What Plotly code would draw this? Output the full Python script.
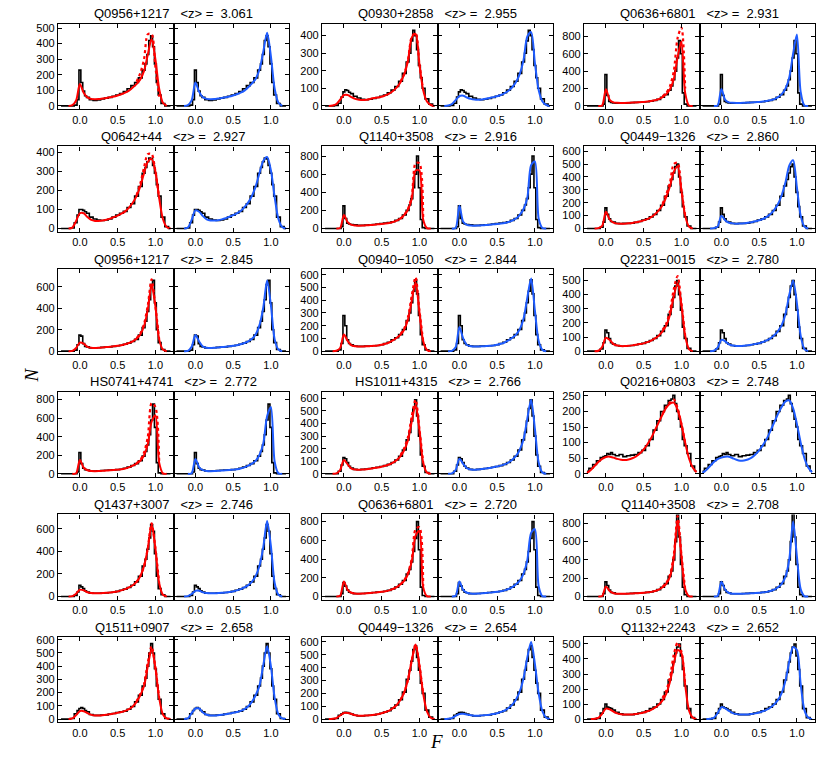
import plotly.graph_objects as go

# Histogram bin centres (finer near the F=0 spike and the continuum peak)
H_GRID = [-0.25, -0.2, -0.15, -0.1, -0.05, -0.025, 0.0, 0.025, 0.05, 0.075, 0.1, 0.15, 0.2, 0.25,
          0.3, 0.35, 0.4, 0.45, 0.5, 0.55, 0.6, 0.65, 0.7, 0.75, 0.8, 0.85, 0.875, 0.9, 0.925,
          0.95, 0.975, 1.0, 1.025, 1.05, 1.1, 1.15, 1.2]
# Model-curve sample points
F_GRID = [-0.25, -0.2, -0.15, -0.1, -0.05, 0.0, 0.05, 0.1, 0.15, 0.2, 0.25, 0.3, 0.35, 0.4, 0.45,
          0.5, 0.55, 0.6, 0.65, 0.7, 0.75, 0.8, 0.85, 0.9, 0.95, 1.0, 1.05, 1.1, 1.15, 1.2]
F_DOT = [0.75, 0.8, 0.85, 0.9, 0.95, 1.0, 1.05]

NAMES = ["Q0956+1217", "Q0930+2858", "Q0636+6801",
         "Q0642+44", "Q1140+3508", "Q0449\u22121326",
         "Q0956+1217", "Q0940\u22121050", "Q2231\u22120015",
         "HS0741+4741", "HS1011+4315", "Q0216+0803",
         "Q1437+3007", "Q0636+6801", "Q1140+3508",
         "Q1511+0907", "Q0449\u22121326", "Q1132+2243"]
ZMEAN = ["3.061", "2.955", "2.931", "2.927", "2.916", "2.860", "2.845", "2.844", "2.780",
         "2.772", "2.766", "2.748", "2.746", "2.720", "2.708", "2.658", "2.654", "2.652"]
Y_TOP = [527, 467, 943, 430, 905, 636, 765, 644, 580, 883, 653, 263, 729, 877, 898, 620, 638, 546]
Y_STEP = [100, 100, 200, 100, 200, 100, 200, 100, 100, 200, 100, 50, 200, 200, 200, 100, 100, 100]
N = None

P1_HIST = [0,0,0,0,5,40,230,150,95,65,55,40,35,38,45,50,55,62,70,80,92,110,130,150,180,230,270,330,420,450,380,270,150,70,15,0,0]
P1_RED = [N,N,0,5,35,140,85,55,45,43,44,47,50,55,60,67,75,85,98,118,140,170,225,330,430,300,110,20,0,N]
P1_BLUE = [N,N,0,5,35,150,90,55,45,43,44,47,50,55,60,67,75,85,98,120,145,175,235,350,470,320,110,20,0,N]
P1_DOT = [155,210,300,460,460,250,60]

P2_HIST = [0,0,0,3,15,50,80,92,88,78,70,55,45,38,35,38,42,48,55,62,75,90,110,140,185,250,300,370,430,400,320,230,160,100,40,10,0]
P2_RED = [N,0,2,10,35,62,62,50,40,35,33,35,40,45,48,52,60,70,85,105,135,180,260,390,410,240,90,25,5,0]
P2_BLUE = [N,0,2,10,33,55,58,48,40,36,35,37,40,45,50,55,62,72,86,106,136,182,262,395,420,245,90,25,5,0]
P2_DOT = [138,184,265,395,415,240,90]

P3_HIST = [0,0,0,0,0,20,360,120,50,40,35,30,30,32,35,37,40,42,45,48,55,62,75,100,130,180,230,300,400,550,750,600,150,20,0,0,0]
P3_RED = [N,N,N,0,5,190,70,40,35,33,34,36,38,40,43,46,50,56,64,78,100,135,195,310,560,740,150,5,0,N]
P3_BLUE = [N,N,N,0,5,195,70,40,35,33,34,36,38,40,43,46,50,56,64,78,100,135,200,330,600,820,160,5,0,N]
P3_DOT = [110,150,230,400,780,900,200]

P4_HIST = [0,0,0,3,30,70,100,100,95,88,80,60,50,45,42,45,50,60,70,80,90,110,130,170,220,290,320,350,370,365,330,290,230,170,60,10,0]
P4_RED = [N,N,0,5,40,80,80,60,45,40,40,42,46,52,60,68,78,90,110,135,170,220,290,350,365,300,160,50,8,0]
P4_BLUE = [N,N,0,5,45,95,88,65,48,42,42,44,48,54,62,70,80,92,112,137,172,222,292,355,375,305,165,50,8,0]
P4_DOT = [175,235,320,390,390,300,160]

P5_HIST = [0,0,0,0,0,20,250,110,60,50,45,40,35,35,38,40,45,50,55,60,65,75,90,110,150,200,260,330,450,600,800,450,100,10,0,0,0]
P5_RED = [N,N,N,0,5,150,70,40,33,32,33,35,38,42,46,50,55,62,72,88,110,150,210,330,640,640,100,5,0,N]
P5_BLUE = [N,N,N,0,5,250,75,40,33,32,33,35,38,42,46,50,55,62,72,88,110,150,215,340,700,740,110,5,0,N]
P5_DOT = [110,150,220,360,720,720,110]

P6_HIST = [0,0,0,0,10,50,160,110,75,55,50,40,38,40,40,42,48,55,65,75,90,110,140,180,250,330,380,430,480,500,400,280,170,90,20,0,0]
P6_RED = [N,N,0,3,20,130,70,45,38,37,38,40,43,48,55,63,73,88,110,140,180,245,330,440,480,300,100,15,0,N]
P6_BLUE = [N,N,0,3,15,100,65,45,40,38,39,41,44,49,56,64,74,90,112,145,190,260,360,490,530,320,100,15,0,N]
P6_DOT = [190,265,360,500,510,300,100]

P7_HIST = [0,0,0,0,10,60,150,140,70,45,40,30,30,32,35,38,40,45,50,55,65,75,90,110,150,220,280,370,480,620,660,450,200,80,15,0,0]
P7_RED = [N,N,0,3,30,80,70,40,32,30,32,35,38,41,45,50,56,65,76,92,115,155,235,390,620,420,110,15,0,N]
P7_BLUE = [N,N,0,3,40,150,90,42,32,30,32,35,38,41,45,50,56,65,76,92,115,158,245,410,660,430,110,15,0,N]
P7_DOT = [120,165,255,430,670,420,110]

P8_HIST = [0,0,0,0,10,60,280,200,90,60,50,40,38,38,40,40,42,45,50,60,70,90,105,130,170,240,300,380,470,560,450,280,130,50,10,0,0]
P8_RED = [N,N,0,3,25,130,80,45,38,37,37,38,40,42,45,50,58,68,85,105,130,170,250,400,540,310,80,10,0,N]
P8_BLUE = [N,N,0,3,30,190,100,48,38,37,37,38,40,42,45,50,58,68,85,105,130,172,255,420,570,320,80,10,0,N]
P8_DOT = [135,180,270,440,580,320,80]

P9_HIST = [0,0,0,0,15,60,150,130,90,60,50,40,35,35,38,40,45,50,55,65,75,90,110,140,180,260,310,380,460,500,400,290,170,90,20,0,0]
P9_RED = [N,N,0,3,30,95,80,50,40,36,36,38,41,45,50,55,64,75,90,110,140,182,260,390,480,330,110,15,0,N]
P9_BLUE = [N,N,0,3,25,80,70,48,40,37,37,39,42,46,51,56,65,76,91,112,142,185,265,400,500,340,110,15,0,N]
P9_DOT = [150,195,285,440,530,340,110]

P10_HIST = [0,0,0,0,0,20,230,110,60,45,40,30,30,32,35,38,40,42,45,50,60,72,90,110,140,190,240,310,420,580,750,500,120,10,0,0,0]
P10_RED = [N,N,N,0,5,150,65,38,30,29,30,32,35,38,41,45,50,58,70,88,110,140,200,320,560,630,120,5,0,N]
P10_BLUE = [N,N,N,0,5,160,70,40,31,29,30,32,35,38,41,45,50,58,70,88,110,142,205,330,620,720,130,5,0,N]
P10_DOT = [115,150,230,400,760,720,130]

P11_HIST = [0,0,0,0,20,70,130,120,90,60,45,35,32,35,38,42,48,52,58,65,75,90,110,140,190,270,330,420,520,590,460,300,150,60,10,0,0]
P11_RED = [N,N,0,3,30,110,75,42,34,32,34,37,41,46,51,57,64,74,89,110,140,190,270,420,550,350,90,10,0,N]
P11_BLUE = [N,N,0,3,30,120,80,44,35,33,35,38,42,47,52,58,65,75,90,112,142,192,275,440,590,360,90,10,0,N]
P11_DOT = [150,205,295,460,590,360,90]

P12_HIST = [8,18,30,42,52,55,58,65,62,68,62,58,62,55,58,60,62,68,75,90,110,140,170,200,220,235,240,252,225,200,175,150,110,90,65,25,10]
P12_RED = [3,12,25,38,48,54,55,52,48,45,44,46,50,56,65,78,95,115,140,165,190,212,225,228,205,160,100,50,20,5]
P12_BLUE = [3,12,25,38,47,52,55,55,50,45,42,43,46,52,62,75,92,112,138,165,192,215,232,235,210,160,100,50,20,5]
P12_DOT = [192,215,230,238,210,160,100]

P13_HIST = [0,0,0,0,10,40,100,85,70,50,40,30,28,28,30,32,35,38,45,55,65,80,100,130,180,270,330,420,520,640,580,380,180,70,15,0,0]
P13_RED = [N,N,0,3,25,60,55,38,30,28,28,30,32,35,39,45,54,65,80,100,130,180,270,430,640,430,120,15,0,N]
P13_BLUE = [N,N,0,3,22,50,50,36,30,28,28,30,32,35,39,45,54,65,80,101,132,183,275,440,670,450,120,15,0,N]
P13_DOT = [130,180,270,430,650,430,120]

P14_HIST = [0,0,0,0,0,30,150,110,70,45,40,30,30,32,35,38,42,46,50,56,65,80,100,130,170,240,290,370,480,620,800,500,100,10,0,0,0]
P14_RED = [N,N,N,0,8,160,70,40,32,30,31,34,37,41,45,50,56,65,80,100,130,170,240,380,650,700,100,3,0,N]
P14_BLUE = [N,N,N,0,8,160,70,40,32,30,31,34,37,41,45,50,56,65,80,100,130,170,245,390,680,720,110,3,0,N]
P14_DOT = [130,175,255,410,720,740,110]

P15_HIST = [0,0,0,0,0,30,160,120,70,45,40,30,30,30,32,34,36,38,40,45,50,60,75,100,140,220,280,400,600,900,650,350,100,20,0,0,0]
P15_RED = [N,N,N,0,5,110,60,35,30,29,30,31,33,35,37,40,45,50,60,75,100,140,220,420,830,450,80,3,0,N]
P15_BLUE = [N,N,N,0,5,160,75,38,30,29,30,31,33,35,37,40,45,50,60,75,100,140,220,410,820,440,80,3,0,N]
P15_DOT = [105,150,240,460,880,460,80]

P16_HIST = [0,0,0,5,40,65,80,88,80,65,55,35,28,28,30,32,38,42,50,55,60,75,95,130,180,250,310,400,500,570,500,380,250,150,40,5,0]
P16_RED = [N,N,0,5,30,60,60,45,32,28,28,30,33,37,42,48,54,62,76,96,130,180,250,400,530,390,160,35,5,0]
P16_BLUE = [N,N,0,5,45,80,80,50,33,28,28,30,33,37,42,48,54,62,76,97,132,182,255,410,550,400,160,35,5,0]
P16_DOT = [135,190,265,430,550,390,160]

P17_HIST = [0,0,0,5,30,42,50,52,50,45,40,30,25,25,28,30,33,38,45,55,65,85,110,150,210,310,380,450,540,570,480,380,280,200,70,15,0]
P17_RED = [N,0,2,8,28,48,48,40,30,26,26,28,30,33,38,45,55,66,85,110,150,210,310,460,580,420,200,60,10,0]
P17_BLUE = [N,0,2,8,25,40,42,36,30,27,27,29,31,34,39,46,56,67,86,112,153,215,320,480,600,430,200,60,10,0]
P17_DOT = [150,210,310,460,580,420,200]

P18_HIST = [0,0,0,5,40,70,100,80,75,70,60,45,35,30,30,30,35,40,45,55,70,80,100,130,180,260,310,380,440,480,500,420,330,220,70,10,0]
P18_RED = [N,0,2,8,35,70,65,50,38,32,30,30,31,34,38,44,52,62,76,96,125,170,250,370,460,440,230,60,10,0]
P18_BLUE = [N,0,2,8,40,80,72,55,40,33,30,30,31,34,38,44,52,63,77,98,128,175,258,385,480,460,235,60,10,0]
P18_DOT = [140,190,280,430,510,450,230]

HISTS = [P1_HIST, P2_HIST, P3_HIST, P4_HIST, P5_HIST, P6_HIST, P7_HIST, P8_HIST, P9_HIST,
         P10_HIST, P11_HIST, P12_HIST, P13_HIST, P14_HIST, P15_HIST, P16_HIST, P17_HIST, P18_HIST]
REDS = [P1_RED, P2_RED, P3_RED, P4_RED, P5_RED, P6_RED, P7_RED, P8_RED, P9_RED,
        P10_RED, P11_RED, P12_RED, P13_RED, P14_RED, P15_RED, P16_RED, P17_RED, P18_RED]
BLUES = [P1_BLUE, P2_BLUE, P3_BLUE, P4_BLUE, P5_BLUE, P6_BLUE, P7_BLUE, P8_BLUE, P9_BLUE,
         P10_BLUE, P11_BLUE, P12_BLUE, P13_BLUE, P14_BLUE, P15_BLUE, P16_BLUE, P17_BLUE, P18_BLUE]
DOTS = [P1_DOT, P2_DOT, P3_DOT, P4_DOT, P5_DOT, P6_DOT, P7_DOT, P8_DOT, P9_DOT,
        P10_DOT, P11_DOT, P12_DOT, P13_DOT, P14_DOT, P15_DOT, P16_DOT, P17_DOT, P18_DOT]

# ---------------- layout geometry (pixels) ----------------
W, H = 830, 775
PAIR_X0 = [58, 322, 584]
PANEL_W = 115.5
ROW_TOP = [21, 144.6, 268.2, 391.8, 515.4, 639]
PANEL_H = 86
X_RANGE = [-0.29, 1.24]
RED = "#ff0000"
BLUE = "#1f5cff"
FONT = "Liberation Sans, Arial, sans-serif"

fig = go.Figure()
layout = {}
annotations = []

for k in range(18):
    r, c = divmod(k, 3)
    top = ROW_TOP[r]
    ydom = [1 - (top + PANEL_H) / H, 1 - top / H]
    ytop = Y_TOP[k]
    yrange = [-0.04 * ytop, ytop]
    for side in range(2):
        idx = 2 * k + side + 1
        sx = "" if idx == 1 else str(idx)
        x0 = PAIR_X0[c] + side * PANEL_W
        layout["xaxis" + sx] = dict(
            domain=[x0 / W, (x0 + PANEL_W) / W], anchor="y" + sx, range=X_RANGE,
            tickvals=[0, 0.5, 1.0], ticktext=["0.0", "0.5", "1.0"],
            ticks="inside", ticklen=4, tickwidth=1, tickcolor="black",
            showline=True, linecolor="black", linewidth=1.3, mirror="ticks",
            showgrid=False, zeroline=False,
            tickfont=dict(family=FONT, size=11, color="black"))
        layout["yaxis" + sx] = dict(
            domain=ydom, anchor="x" + sx, range=yrange, tick0=0, dtick=Y_STEP[k],
            ticks="inside", ticklen=4, tickwidth=1, tickcolor="black",
            showline=True, linecolor="black", linewidth=1.3, mirror="ticks",
            showgrid=False, zeroline=False, showticklabels=(side == 0),
            tickfont=dict(family=FONT, size=11, color="black"))
        xa, ya = "x" + sx, "y" + sx
        fig.add_trace(go.Scatter(x=H_GRID, y=HISTS[k], mode="lines", xaxis=xa, yaxis=ya,
                                 line=dict(color="black", width=1.6, shape="hvh"),
                                 showlegend=False, hoverinfo="skip"))
        if side == 0:
            fig.add_trace(go.Scatter(x=F_DOT, y=DOTS[k], mode="lines", xaxis=xa, yaxis=ya,
                                     line=dict(color=RED, width=2.2, dash="dot", shape="spline",
                                               smoothing=0.8),
                                     showlegend=False, hoverinfo="skip"))
            fig.add_trace(go.Scatter(x=F_GRID, y=REDS[k], mode="lines", xaxis=xa, yaxis=ya,
                                     line=dict(color=RED, width=2, shape="spline", smoothing=0.8),
                                     connectgaps=False, showlegend=False, hoverinfo="skip"))
        else:
            fig.add_trace(go.Scatter(x=F_GRID, y=BLUES[k], mode="lines", xaxis=xa, yaxis=ya,
                                     line=dict(color=BLUE, width=2, shape="spline", smoothing=0.8),
                                     connectgaps=False, showlegend=False, hoverinfo="skip"))
    title = NAMES[k] + "&nbsp;&nbsp;&nbsp;&lt;z&gt;&nbsp;=&nbsp;&nbsp;" + ZMEAN[k]
    annotations.append(dict(text=title, x=(PAIR_X0[c] + PANEL_W) / W, y=1 - (top - 10) / H,
                            xref="paper", yref="paper", showarrow=False,
                            xanchor="center", yanchor="middle",
                            font=dict(family=FONT, size=13, color="black")))

annotations.append(dict(text="<i>N</i>", x=19 / W, y=1 - 375 / H, xref="paper", yref="paper",
                        showarrow=False, textangle=-90,
                        font=dict(family="Liberation Serif, Times New Roman, serif", size=19,
                                  color="black")))
annotations.append(dict(text="<i>F</i>", x=436 / W, y=1 - 757 / H, xref="paper", yref="paper",
                        showarrow=False,
                        font=dict(family="Liberation Serif, Times New Roman, serif", size=19,
                                  color="black")))

fig.update_layout(width=W, height=H, margin=dict(l=0, r=0, t=0, b=0),
                  paper_bgcolor="white", plot_bgcolor="white",
                  annotations=annotations, **layout)
fig.write_html("out.html", config={"displayModeBar": False},
               post_script="document.body.style.margin='0';")
